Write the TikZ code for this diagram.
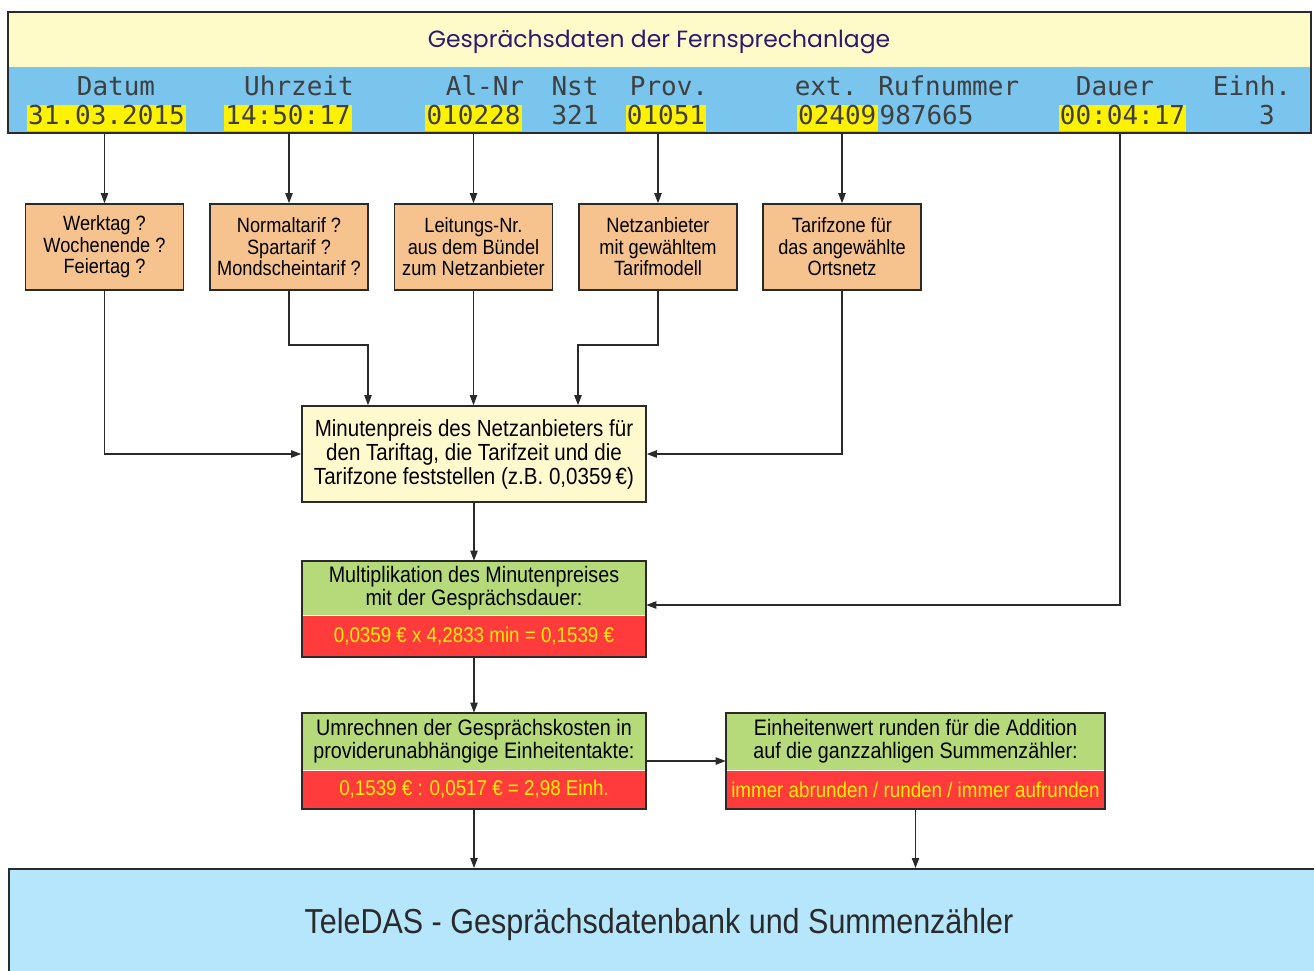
\documentclass[tikz,border=0pt]{standalone}
\usepackage{fontspec}
\setmainfont{Liberation Sans}
\newfontfamily\monof{DejaVu Sans Mono}
\newfontfamily\titlef{Poppins}
\newfontfamily\narrowf[FakeStretch=0.88]{Liberation Sans}
\usetikzlibrary{arrows.meta}
\definecolor{topyellow}{HTML}{FFFBC8}
\definecolor{rowblue}{HTML}{79C5EE}
\definecolor{titleblue}{HTML}{2B1A72}
\definecolor{hl}{HTML}{FFF200}
\definecolor{orangebox}{HTML}{F6C38F}
\definecolor{paleyellow}{HTML}{FFFACD}
\definecolor{greenbox}{HTML}{B6DA7A}
\definecolor{redbox}{HTML}{FF3B3B}
\definecolor{redtext}{HTML}{FFF000}
\definecolor{bottomblue}{HTML}{B5E6FC}
\definecolor{edge}{HTML}{2A2A2A}
\tikzset{
  mono/.style={inner sep=0pt, font=\monof\fontsize{19.5}{20}\selectfont, text=edge!90},
  val/.style={mono, text height=15pt, text depth=5pt, inner xsep=1pt},
  hlval/.style={val, fill=hl},
  obox/.style={draw=edge, line width=1.2pt, fill=orangebox, align=center, inner sep=0pt,
    minimum width={158*0.75pt}, minimum height={86*0.75pt},
    font=\narrowf\fontsize{15.5}{16.2}\selectfont},
  ybox/.style={draw=edge, line width=1.2pt, fill=paleyellow, align=center, inner sep=0pt,
    minimum width={344*0.75pt}, minimum height={96*0.75pt},
    font=\narrowf\fontsize{17.5}{18}\selectfont},
  gpart/.style={fill=greenbox, align=center, inner sep=0pt,
    font=\narrowf\fontsize{16.8}{17.5}\selectfont},
  rpart/.style={fill=redbox, align=center, inner sep=0pt, text=redtext,
    font=\narrowf\fontsize{16}{17}\selectfont},
  frame/.style={draw=edge, line width=1.2pt},
  conn/.style={draw=edge, line width=0.9pt},
  arr/.style={conn, -{Triangle[length=7.5pt,width=5.5pt]}},
}
\begin{document}
\begin{tikzpicture}[x=0.75pt,y=-0.75pt]
\useasboundingbox (0,0) rectangle (1314,971);
% top panel
\fill[topyellow] (8,12) rectangle (1311,67);
\fill[rowblue] (8,67) rectangle (1311,133);
\node[frame, inner sep=0pt, minimum width={1303*0.75pt}, minimum height={121*0.75pt}] (top) at (659.5,72.5) {};
\node[font=\titlef\fontsize{17.6}{18}\selectfont, text=titleblue] (title) at (659,42) {Gesprächsdaten der Fernsprechanlage};
% header row
\node[mono] (hDatum) at (116,86) {Datum};
\node[mono] (hUhr) at (299,86) {Uhrzeit};
\node[mono] (hAl) at (485,86) {Al-Nr};
\node[mono] (hNst) at (575,86) {Nst};
\node[mono] (hProv) at (669,86) {Prov.};
\node[mono] (hExt) at (907,86) {ext. Rufnummer};
\node[mono] (hDauer) at (1115,86) {Dauer};
\node[mono] (hEinh) at (1252,86) {Einh.};
% values
\node[hlval] (vDatum) at (106.5,118) {31.03.2015};
\node[hlval] (vUhr) at (288,118) {14:50:17};
\node[hlval] (vAl) at (473.5,118) {010228};
\node[val] (vNst) at (575,118) {321};
\node[hlval] (vProv) at (666,118) {01051};
\node[hlval, anchor=east] (vExt) at (878,118) {02409};
\node[val, anchor=west] (vRuf) at (vExt.east) {987665};
\node[hlval] (vDauer) at (1122.5,118) {00:04:17};
\node[val] (vEinh) at (1267,118) {3};
% orange boxes
\node[obox] (b1) at (104.5,247) {Werktag ?\\Wochenende ?\\Feiertag ?};
\node[obox] (b2) at (289,247) {Normaltarif ?\\Spartarif ?\\Mondscheintarif ?};
\node[obox] (b3) at (473.5,247) {Leitungs-Nr.\\aus dem Bündel\\zum Netzanbieter};
\node[obox] (b4) at (658,247) {Netzanbieter\\mit gewähltem\\Tarifmodell};
\node[obox] (b5) at (842,247) {Tarifzone für\\das angewählte\\Ortsnetz};
\foreach \b in {b1,b2,b3,b4,b5} \draw[arr] (top.south -| \b.north) -- (\b.north);
% middle box
\node[ybox] (mid) at (474,454) {Minutenpreis des Netzanbieters für\\den Tariftag, die Tarifzeit und die\\Tarifzone feststellen (z.B. 0,0359\,€)};
\coordinate (m2) at (368,345);
\coordinate (m4) at (578,345);
\draw[arr] (b1.south) |- (mid.west);
\draw[arr] (b5.south) |- (mid.east);
\draw[arr] (b3.south) -- (b3.south |- mid.north);
\draw[arr] (b2.south) |- (m2) -- (m2 |- mid.north);
\draw[arr] (b4.south) |- (m4) -- (m4 |- mid.north);
% green box 1
\node[gpart, minimum width={344*0.75pt}, minimum height={54*0.75pt}] (g1) at (474,588) {Multiplikation des Minutenpreises\\mit der Gesprächsdauer:};
\node[rpart, minimum width={344*0.75pt}, minimum height={41*0.75pt}, anchor=north] (r1) at (g1.south) {0,0359 € x 4,2833 min = 0,1539 €};
\draw[frame] (g1.north west) rectangle (r1.south east);
\draw[arr] (mid.south) -- (g1.north);
\coordinate (dturn) at (1120,605);
\draw[arr] (top.south -| dturn) -- (dturn) -- (dturn -| g1.east);
% green box 2
\node[gpart, minimum width={344*0.75pt}, minimum height={57*0.75pt}] (g2) at (474,741.5) {Umrechnen der Gesprächskosten in\\providerunabhängige Einheitentakte:};
\node[rpart, minimum width={344*0.75pt}, minimum height={38*0.75pt}, anchor=north] (r2) at (g2.south) {0,1539 € : 0,0517 € = 2,98 Einh.};
\draw[frame] (g2.north west) rectangle (r2.south east);
\draw[arr] (r1.south) -- (g2.north);
% green box 3
\node[gpart, minimum width={379*0.75pt}, minimum height={57*0.75pt}] (g3) at (915.5,741.5) {Einheitenwert runden für die Addition\\auf die ganzzahligen Summenzähler:};
\node[rpart, minimum width={379*0.75pt}, minimum height={38*0.75pt}, anchor=north] (r3) at (g3.south) {immer abrunden / runden / immer aufrunden};
\draw[frame] (g3.north west) rectangle (r3.south east);
\coordinate (gy) at (646,761);
\draw[arr] (gy) -- (gy -| g3.west);
% bottom
\node[draw=edge, line width=1.5pt, fill=bottomblue, inner sep=0pt, minimum width={1312*0.75pt}, minimum height={110*0.75pt}, anchor=north west] (bot) at (8,868) {};
\node[font=\narrowf\fontsize{26}{28}\selectfont, text=edge] (botlabel) at (659,925) {TeleDAS - Gesprächsdatenbank und Summenzähler};
\draw[arr] (r2.south) -- (r2.south |- bot.north);
\draw[arr] (r3.south) -- (r3.south |- bot.north);
\end{tikzpicture}
\end{document}
